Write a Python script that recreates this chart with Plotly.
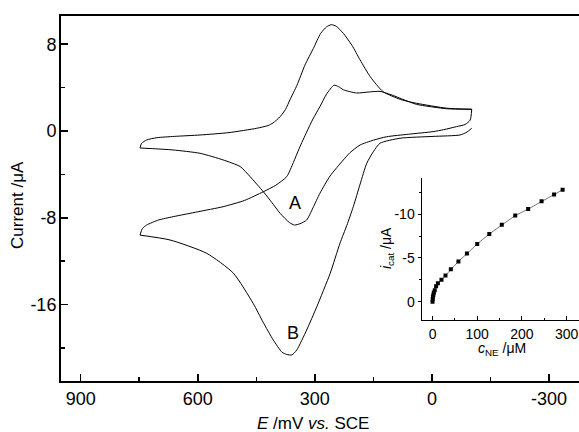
import plotly.graph_objects as go

W, H = 579, 432

# ---- Curve A: anodic sweep (-100 -> 750 mV) and cathodic sweep back ----
A_ox_E = [-102, -98, -85, -63, -30, -3, 60, 116, 150, 184, 210, 227, 261, 287, 305, 321, 338, 352, 365, 389, 410, 432, 466, 491, 535, 594, 663, 720, 748]
A_ox_I = [2.0, 1.0, 0.6, 0.4, 0.12, -0.06, -0.3, -0.53, -0.85, -1.29, -2.0, -2.67, -4.15, -5.74, -7.1, -8.21, -8.55, -8.67, -8.45, -7.59, -6.6, -5.6, -4.21, -3.29, -2.67, -2.06, -1.75, -1.62, -1.57]
A_red_E = [748, 744, 731, 705, 660, 594, 520, 449, 420, 407, 389, 375, 364, 346, 325, 304, 285, 270, 258, 245, 227, 205, 184, 158, 125, 80, 39, -38, -102]
A_red_I = [-1.57, -1.14, -0.83, -0.62, -0.5, -0.37, -0.15, 0.25, 0.5, 0.74, 1.32, 2.0, 2.86, 4.2, 6.1, 7.6, 9.0, 9.6, 9.8, 9.65, 9.0, 7.9, 6.55, 5.0, 3.62, 2.9, 2.55, 2.1, 2.0]

# ---- Curve B: anodic sweep and cathodic sweep ----
B_ox_E = [-102, -90, -72, -3, 82, 133, 150, 167, 184, 201.5, 218, 235.6, 261, 295, 321, 346.5, 359, 372, 384, 406.5, 433, 458, 509, 577, 671, 748]
B_ox_I = [0.25, -0.1, -0.37, -0.5, -0.67, -1.13, -1.9, -2.98, -4.9, -6.98, -8.7, -10.35, -13.15, -16.2, -18.35, -20.2, -20.65, -20.6, -20.4, -19.27, -17.6, -15.9, -13.1, -11.28, -10.05, -9.6]
B_red_E = [748, 742, 731, 700, 663, 600, 535, 480, 432, 400, 372, 355, 340, 321, 305, 287, 270, 251, 240, 227, 193, 160, 133, 105, 70, 39, -38, -102]
B_red_I = [-9.6, -9.0, -8.67, -8.2, -7.9, -7.45, -6.98, -6.4, -5.6, -5.0, -4.21, -2.9, -1.6, -0.1, 1.1, 2.24, 3.4, 4.22, 4.1, 3.8, 3.5, 3.6, 3.65, 3.35, 2.85, 2.45, 2.05, 2.0]

# ---- Inset: catalytic current vs NE concentration ----
c_NE = [0, 0.5, 1, 2, 3, 5, 8, 12, 20, 29, 41, 58, 77, 100, 127, 155, 185, 214, 244, 272, 291]
i_cat = [0, -0.3, -0.55, -0.8, -1.05, -1.3, -1.75, -2.1, -2.5, -3.0, -3.7, -4.6, -5.5, -6.6, -7.75, -8.8, -9.85, -10.6, -11.5, -12.25, -12.8]

# ---- Tick labels ----
x_tickvals = [900, 600, 300, 0, -300]
x_ticktext = ["900", "600", "300", "0", "-300"]
x_minor = [750, 450, 150, -150]
y_tickvals = [8, 0, -8, -16]
y_ticktext = ["8", "0", "-8", "-16"]
y_minor = [4, -4, -12, -20]
ix_tickvals = [0, 100, 200, 300]
ix_ticktext = ["0", "100", "200", "300"]
ix_minor = [50, 150, 250]
iy_tickvals = [0, -5, -10]
iy_ticktext = ["0", "-5", "-10"]
iy_minor = [-2.5, -7.5, -12.5]

FONT = "Liberation Sans, Arial, sans-serif"
line_style = dict(color="black", width=1, shape="spline", smoothing=0.6)

fig = go.Figure()
for ex, iy in [(A_ox_E, A_ox_I), (A_red_E, A_red_I), (B_ox_E, B_ox_I), (B_red_E, B_red_I)]:
    fig.add_trace(go.Scatter(x=ex, y=iy, mode="lines", line=line_style,
                             showlegend=False, xaxis="x", yaxis="y", hoverinfo="skip"))

fig.add_trace(go.Scatter(x=c_NE, y=i_cat, mode="lines+markers",
                         line=dict(color="#555", width=0.8),
                         marker=dict(symbol="square", size=4, color="black"),
                         showlegend=False, xaxis="x2", yaxis="y2", hoverinfo="skip"))

px = lambda v: v / W
py = lambda v: 1 - v / H

def ann(text, x, y, size, angle=0, ref="paper"):
    return dict(text=text, x=x, y=y, xref=ref if ref == "paper" else "x",
                yref=ref if ref == "paper" else "y",
                xanchor="center", yanchor="middle", textangle=angle,
                showarrow=False, font=dict(size=size))

fig.update_layout(
    width=W, height=H,
    margin=dict(l=0, r=0, t=0, b=0),
    paper_bgcolor="white", plot_bgcolor="white",
    font=dict(family=FONT, color="black", size=18),
    xaxis=dict(domain=[px(61), 1.0], range=[950.5, -376.9],
               showgrid=False, zeroline=False,
               showline=True, linecolor="black", linewidth=2, mirror=True,
               ticks="inside", ticklen=7, tickwidth=1.5, tickcolor="black",
               tickvals=x_tickvals, ticktext=x_ticktext,
               minor=dict(tickvals=x_minor, ticks="inside", ticklen=4, tickwidth=1.5, tickcolor="black"),
               tickfont=dict(size=18), ticklabelstandoff=0),
    yaxis=dict(domain=[py(381), py(16)], range=[-23.05, 10.6],
               showgrid=False, zeroline=False,
               showline=True, linecolor="black", linewidth=2, mirror=False,
               ticks="inside", ticklen=7, tickwidth=1.5, tickcolor="black",
               tickvals=y_tickvals, ticktext=y_ticktext,
               minor=dict(tickvals=y_minor, ticks="inside", ticklen=4, tickwidth=1.5, tickcolor="black"),
               tickfont=dict(size=18), ticklabelstandoff=-1),
    xaxis2=dict(domain=[px(421.7), 1.0], range=[-24.2, 327.7], anchor="y2",
                showgrid=False, zeroline=False,
                showline=True, linecolor="black", linewidth=1.2,
                ticks="inside", ticklen=4, tickwidth=1, tickcolor="black",
                tickvals=ix_tickvals, ticktext=ix_ticktext,
                minor=dict(tickvals=ix_minor, ticks="inside", ticklen=2, tickwidth=1, tickcolor="black"),
                tickfont=dict(size=14), ticklabelstandoff=1),
    yaxis2=dict(domain=[py(320), py(178)], range=[2.1, -14.15], anchor="x2",
                showgrid=False, zeroline=False,
                showline=True, linecolor="black", linewidth=1.2,
                ticks="outside", ticklen=3, tickwidth=1, tickcolor="black",
                tickvals=iy_tickvals, ticktext=iy_ticktext,
                minor=dict(tickvals=iy_minor, ticks="outside", ticklen=2, tickwidth=1, tickcolor="black"),
                tickfont=dict(size=14), ticklabelstandoff=0),
    annotations=[
        ann("Current /μA", px(18), py(205), 17, -90),
        ann("<i>E</i> /mV <i>vs.</i> SCE", px(313), py(423), 17),
        ann("A", 351, -6.6, 18, 0, "data"),
        ann("B", 356, -18.6, 18, 0, "data"),
        ann("<i>i</i><sub>cat</sub> /μA", px(387), py(248), 14, -90),
        ann("<i>c</i><sub>NE</sub> /μM", px(502), py(349), 14),
    ],
)

fig.write_html("out.html", config={"displayModeBar": False, "staticPlot": True},
               post_script="document.body.style.margin='0px';")
